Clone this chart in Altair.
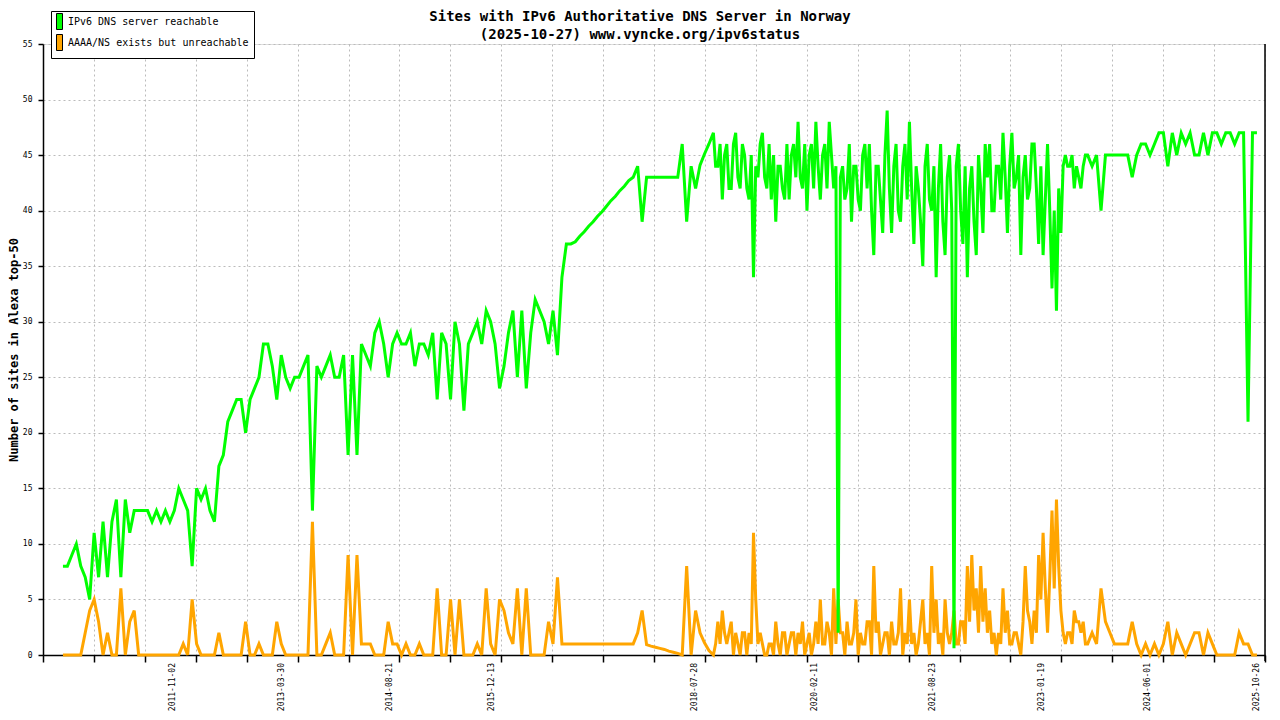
import altair as alt
import pandas as pd

# Values. Three stretches: every 21 days, then every
# 10.5 days through the dense 2018-2023 part, then every 21 days again.
first_sample = "2010-05-31"
coarse_days = 21
fine_days = 10.5

reachable_a = [
    8, 8, 9, 10, 8, 7, 5, 11, 7, 12,
    7, 12, 14, 7, 14, 11, 13, 13, 13, 13,
    12, 13, 12, 13, 12, 13, 15, 14, 13, 8,
    15, 14, 15, 13, 12, 17, 18, 21, 22, 23,
    23, 20, 23, 24, 25, 28, 28, 26, 23, 27,
    25, 24, 25, 25, 26, 27, 13, 26, 25, 26,
    27, 25, 25, 27, 18, 27, 18, 28, 27, 26,
    29, 30, 28, 25, 28, 29, 28, 28, 29, 26,
    28, 28, 27, 29, 23, 29, 28, 23, 30, 28,
    22, 28, 29, 30, 28, 31, 30, 28, 24, 26,
    29, 31, 25, 31, 24, 29, 32, 31, 30, 28,
    31, 27, 34, 37, 37, 37.2, 37.7, 38.1, 38.6, 39.0,
    39.5, 39.9, 40.4, 40.9, 41.3, 41.8, 42.2, 42.7, 43, 44,
    39, 43, 43, 43, 43, 43, 43, 43, 43, 46,
    39, 44, 42, 44.1, 45.1, 46,
]
reachable_b = [
    47, 44, 44, 46, 41, 45, 46, 42, 42, 46,
    47, 43, 42, 46, 45, 42, 41, 45, 34, 44,
    43, 46, 47, 43, 42, 46, 41, 45, 39, 44,
    44, 42, 41, 46, 41, 45, 46, 43, 48, 43,
    42, 46, 40, 45, 46, 42, 48, 44, 41, 45,
    46, 42, 48, 45, 42, 44, 2, 43, 44, 41,
    42, 46, 39, 44, 44, 41, 40, 45, 46, 42,
    46, 40, 36, 44, 44, 41, 38, 45, 49, 42,
    38, 44, 46, 40, 39, 44, 46, 41, 48, 42,
    37, 44, 42, 39, 35, 44, 46, 41, 40, 44,
    34, 42, 46, 39, 36, 43, 45, 40, 0.6, 44,
    46, 40, 37, 44, 34, 42, 44, 39, 36, 45,
    42, 38, 46, 43, 46, 40, 40, 44, 44, 41,
    47, 43, 38, 44, 47, 42, 43, 45, 36, 43,
    45, 41, 42, 46, 46, 42, 37, 44, 36, 41,
    46, 40, 33, 40, 31, 42, 38, 44, 45, 44,
    44, 45, 42, 44, 43, 42, 44, 45,
    45,
]
reachable_c = [
    44, 45, 40, 45, 45, 45, 45, 45, 45,
    43, 45, 46, 46, 45, 46, 47, 47, 44, 47,
    45, 47, 46, 47, 45, 45, 47, 45, 47, 47,
    46, 47, 47, 46, 47, 47, 21, 47, 47,
]

unreachable_a = [
    0, 0, 0, 0, 0, 2, 4, 5, 3, 0,
    2, 0, 0, 6, 0, 3, 4, 0, 0, 0,
    0, 0, 0, 0, 0, 0, 0, 1, 0, 5,
    1, 0, 0, 0, 0, 2, 0, 0, 0, 0,
    0, 3, 0, 0, 1, 0, 0, 0, 3, 1,
    0, 0, 0, 0, 0, 0, 12, 0, 0, 1,
    2, 0, 0, 0, 9, 0, 9, 1, 1, 1,
    0, 0, 0, 3, 1, 1, 0, 1, 0, 0,
    1, 0, 0, 0, 6, 0, 0, 5, 0, 5,
    0, 0, 0, 1, 0, 6, 1, 0, 5, 4,
    2, 1, 6, 0, 6, 0, 0, 0, 0, 3,
    1, 7, 1, 1, 1, 1, 1, 1, 1, 1,
    1, 1, 1, 1, 1, 1, 1, 1, 1, 2,
    4, 0.93, 0.8, 0.7, 0.6, 0.5, 0.35, 0.25, 0.15, 0,
    8, 0, 4, 2, 1.1, 0.4,
]
unreachable_b = [
    0, 1, 3, 1, 4, 2, 1, 2, 3, 0,
    2, 1, 0, 2, 2, 0, 2, 1, 11, 5,
    1, 2, 1, 0, 0, 1, 1, 0, 3, 1,
    0, 2, 2, 0, 1, 2, 2, 0, 2, 1,
    3, 0, 1, 2, 0, 1, 3, 1, 5, 1,
    1, 3, 2, 0, 6, 1, 5, 2, 2, 0,
    3, 1, 1, 2, 5, 0, 2, 1, 1, 3,
    3, 0, 8, 2, 3, 0, 1, 2, 2, 0,
    3, 1, 1, 2, 6, 0, 2, 1, 5, 1,
    2, 0, 1, 3, 5, 1, 2, 0, 8, 2,
    5, 1, 2, 0, 5, 2, 1, 2, 4, 1,
    1, 3, 3, 1, 8, 3, 9, 4, 6, 2,
    8, 3, 6, 2, 4, 1, 2, 0, 2, 1,
    6, 2, 4, 1, 1, 2, 2, 1, 0, 3,
    8, 4, 3, 1, 4, 2, 9, 5, 11, 6,
    2, 7, 13, 6, 14, 8, 4, 2, 1, 2,
    2, 1, 4, 3, 3, 2, 3, 1,
    1,
]
unreachable_c = [
    2, 1, 6, 3, 2, 1, 1, 1, 1,
    3, 1, 0, 1, 0, 1, 0, 1, 3, 0,
    2, 1, 0, 1, 2, 2, 0, 2, 1, 0,
    0, 0, 0, 0, 2, 1, 1, 0, 0,
]

series_names = ["IPv6 DNS server reachable", "AAAA/NS exists but unreachable"]
series_colors = ["#00ff00", "#ffa500"]

date_labels = ["2011-11-02", "2013-03-30", "2014-08-21", "2015-12-13", "2018-07-28",
               "2020-02-11", "2021-08-23", "2023-01-19", "2024-06-01", "2025-10-26"]
y_ticks = list(range(0, 56, 5))

# x axis runs over 24 steps of 240 days
axis_start = "2010-02-26"
tick_step = "240D"
tick_count = 25

MONO = "DejaVu Sans Mono"
W, H = 1222, 611

# sampling dates of the three stretches
t0 = pd.Timestamp(first_sample)
dates_a = [t0 + pd.Timedelta(days=coarse_days * k) for k in range(len(reachable_a))]
t1 = t0 + pd.Timedelta(days=coarse_days * len(reachable_a))
dates_b = [t1 + pd.Timedelta(days=fine_days * k) for k in range(len(reachable_b))]
t2 = dates_b[-1] + pd.Timedelta(days=coarse_days)
dates_c = [t2 + pd.Timedelta(days=coarse_days * k) for k in range(len(reachable_c))]
dates = dates_a + dates_b + dates_c

ok = pd.DataFrame({"date": dates, "sites": reachable_a + reachable_b + reachable_c,
                   "series": series_names[0]})
bad = pd.DataFrame({"date": dates, "sites": unreachable_a + unreachable_b + unreachable_c,
                    "series": series_names[1]})
both = pd.concat([ok, bad], ignore_index=True)
labels = pd.DataFrame({"date": pd.to_datetime(date_labels), "text": date_labels})

tick_dates = pd.date_range(axis_start, periods=tick_count, freq=tick_step)


def dt(ts):
    return alt.DateTime(year=ts.year, month=ts.month, date=ts.day)


x_scale = alt.Scale(domain=[dt(tick_dates[0]), dt(tick_dates[-1])], nice=False)
y_scale = alt.Scale(domain=[0, 55], nice=False)

x_axis = alt.Axis(values=[dt(t) for t in tick_dates], labels=False, title=None,
                  tickSize=7, tickColor="black", tickWidth=1.5,
                  domainColor="black", domainWidth=1.5,
                  grid=True, gridColor="#bbbbbb", gridDash=[2, 3])
y_axis = alt.Axis(values=y_ticks, title="Number of sites in Alexa top-50",
                  titleFont=MONO, titleFontSize=12, titleFontWeight="bold", titleColor="black",
                  titleAngle=270, titleX=-30, titleY=H / 2, titleAlign="center",
                  titleBaseline="middle",
                  labelFont=MONO, labelFontSize=8, labelColor="black", labelPadding=6,
                  tickSize=5, tickColor="black", tickWidth=1.5,
                  domainColor="black", domainWidth=1.5,
                  grid=True, gridColor="#bbbbbb", gridDash=[2, 3])

X = alt.X("date:T", scale=x_scale, axis=x_axis)
Y = alt.Y("sites:Q", scale=y_scale, axis=y_axis)

base = alt.Chart(both).encode(x=X, y=Y)

orange_line = base.transform_filter(alt.datum.series == series_names[1]).mark_line(
    color=series_colors[1], strokeWidth=3)
green_line = base.transform_filter(alt.datum.series == series_names[0]).mark_line(
    color=series_colors[0], strokeWidth=3)

# tall narrow swatch (6x16 px) drawn at the left of a 10 px symbol column
legend_layer = base.mark_point(filled=True, opacity=0).encode(
    color=alt.Color("series:N",
                    scale=alt.Scale(domain=series_names, range=series_colors),
                    legend=alt.Legend(title=None, orient="none", legendX=8, legendY=-33,
                                      padding=5, strokeColor="black", fillColor="white",
                                      cornerRadius=0,
                                      labelFont=MONO, labelFontSize=10, labelColor="black",
                                      labelOffset=1, rowPadding=0, labelLimit=0,
                                      symbolType="M-1,-1.6L0.2,-1.6L0.2,1.6L-1,1.6Z",
                                      symbolSize=100, symbolOpacity=1,
                                      symbolStrokeColor="black", symbolStrokeWidth=1)))

date_text = alt.Chart(labels).mark_text(
    angle=270, align="right", baseline="middle", font=MONO, fontSize=8, color="black"
).encode(x=X, y=alt.value(H + 8), text="text:N")

right_edge = alt.Chart(pd.DataFrame({"edge": [0]})).mark_rule(
    color="black", strokeWidth=1.5
).encode(x=alt.value(W), y=alt.value(0), y2=alt.value(H + 6))

chart = alt.layer(orange_line, green_line, legend_layer, date_text, right_edge).properties(
    width=W,
    height=H,
    title=alt.TitleParams(
        text=["Sites with IPv6 Authoritative DNS Server in Norway",
              "(2025-10-27) www.vyncke.org/ipv6status"],
        font=MONO, fontSize=14, fontWeight="bold", color="black",
        lineHeight=18, anchor="middle", dx=-14, dy=37, offset=6),
    autosize=alt.AutoSizeParams(type="none"),
    padding={"left": 35, "top": 36, "right": 7, "bottom": 57},
).configure_view(stroke=None).configure(background="white")

chart.save("out.html", embed_options={"renderer": "svg", "actions": False})
